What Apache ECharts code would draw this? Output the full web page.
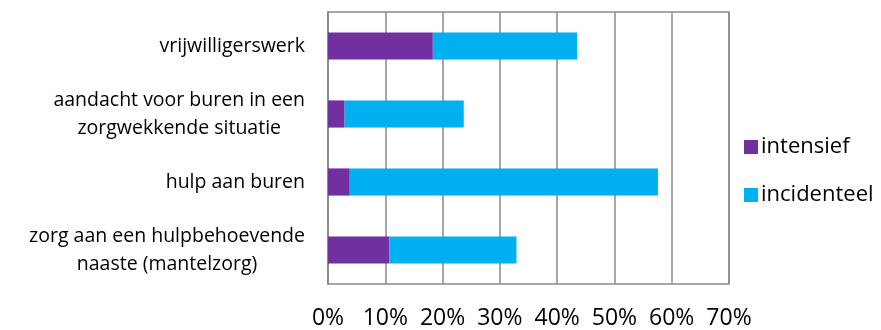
<!DOCTYPE html>
<html>
<head>
<meta charset="utf-8">
<script src="https://cdn.jsdelivr.net/npm/echarts@6/dist/echarts.min.js"></script>
<style>
  html, body { margin: 0; padding: 0; background: #fff; }
  #chart { width: 881px; height: 330px; }
</style>
</head>
<body>
<div id="chart"></div>
<script>
// Categories, listed top to bottom
const categories = [
  'vrijwilligerswerk',
  'aandacht voor buren in een\nzorgwekkende situatie',
  'hulp aan buren',
  'zorg aan een hulpbehoevende\nnaaste (mantelzorg)'
];
// Percentages per category (same order)
const intensief = [18.3, 2.9, 3.8, 10.7];
const incidenteel = [25.2, 20.8, 53.8, 22.2];
const seriesNames = ['intensief', 'incidenteel'];
const xTicks = [0, 10, 20, 30, 40, 50, 60, 70];

const FONT = '"Open Sans", "Noto Sans", sans-serif';
const GRID_COLOR = '#8a8a8a';

const chart = echarts.init(document.getElementById('chart'), null, { renderer: 'canvas' });

chart.setOption({
  animation: false,
  backgroundColor: '#ffffff',
  grid: {
    left: 328, right: 152, top: 12, bottom: 44,
    show: true, borderColor: GRID_COLOR, borderWidth: 1.5
  },
  legend: {
    orient: 'vertical',
    left: 739, top: 129,
    itemWidth: 14, itemHeight: 14, itemGap: 22,
    icon: 'rect',
    data: seriesNames,
    textStyle: { fontFamily: FONT, fontSize: 22, lineHeight: 26, color: '#000', padding: [0, 0, 0, -2] }
  },
  xAxis: {
    type: 'value',
    min: xTicks[0], max: xTicks[xTicks.length - 1], interval: 10,
    axisLine: { show: false },
    axisTick: { show: false },
    splitLine: { show: true, lineStyle: { color: GRID_COLOR, width: 1.5 } },
    axisLabel: {
      margin: 23,
      fontFamily: FONT, fontSize: 23, color: '#000',
      formatter: v => v + '%'
    }
  },
  yAxis: {
    type: 'category',
    inverse: true,
    data: categories,
    axisLine: { show: true, lineStyle: { color: GRID_COLOR, width: 1.5 } },
    axisTick: { show: false },
    axisLabel: {
      margin: 23,
      align: 'right',
      fontFamily: FONT, fontSize: 19.5, color: '#000', lineHeight: 28,
      formatter: v => v.split('\n').map(l => '{c|' + l + '}').join('\n'),
      rich: { c: { align: 'center', fontFamily: FONT, fontSize: 19.5, color: '#000', lineHeight: 28 } }
    }
  },
  series: [
    {
      name: seriesNames[0], type: 'bar', stack: 'total',
      data: intensief, barWidth: '40%',
      itemStyle: { color: '#7030A0' }
    },
    {
      name: seriesNames[1], type: 'bar', stack: 'total',
      data: incidenteel, barWidth: '40%',
      itemStyle: { color: '#00B0F0' }
    }
  ]
});
</script>
</body>
</html>
